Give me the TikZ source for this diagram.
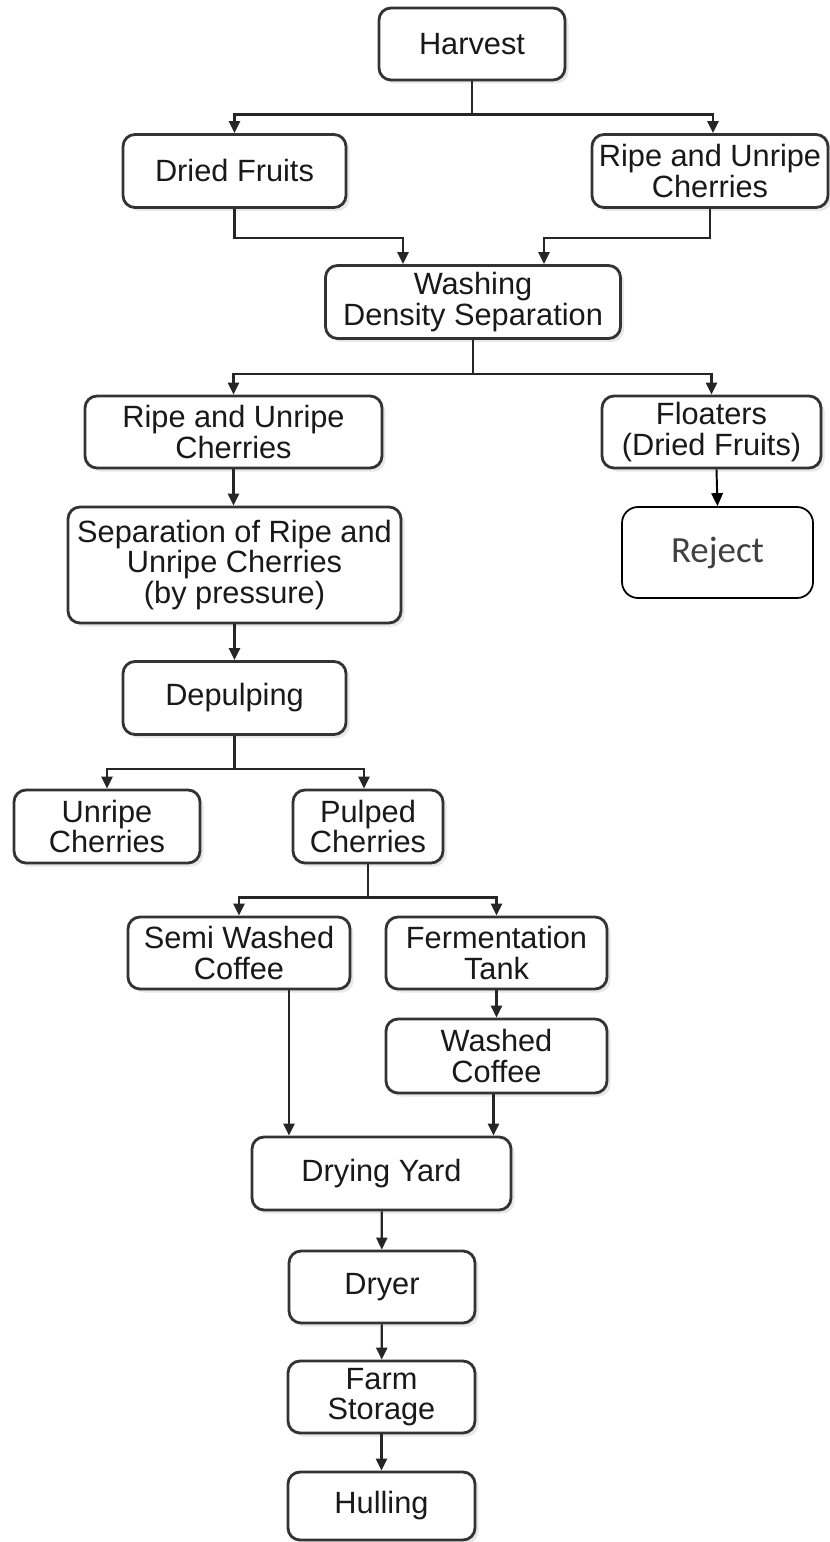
\documentclass[tikz,border=0pt]{standalone}
\usepackage{fontspec}
\setmainfont{Liberation Sans}
\newfontfamily\rejfont{Carlito}
\usetikzlibrary{arrows.meta,positioning,shadows}

\begin{document}
\begin{tikzpicture}[x=0.2mm, y=-0.2mm,
  every node/.style={font=\fontsize{17.5}{17.5}\selectfont, text=black!90, align=center},
  box/.style={draw=black!80, line width=1.6pt, rounded corners=2.4mm, fill=white, inner sep=0pt,
    drop shadow={opacity=0.18, shadow xshift=0.7mm, shadow yshift=-0.7mm}},
  sz/.style 2 args={minimum width=#1*0.2mm, minimum height=#2*0.2mm},
  arr/.style={-{Triangle[length=2.4mm,width=2.2mm]}, line width=1.3pt, draw=black!85}]
  \useasboundingbox (0,0) rectangle (830,1542);

  % top
  \node[box,sz={186}{72}] (harv) at (472,44) {Harvest};
  \node[box,sz={223}{73}] (dried) at (234.5,171) {Dried Fruits};
  \node[box,sz={236}{73}] (ripeA) at (710,171) {Ripe and Unripe\\Cherries};
  \node[box,sz={295}{73}] (wash) at (473,302) {Washing\\Density Separation};

  % after washing
  \node[box,sz={297}{72}] (ripeB) at (233.5,432) {Ripe and Unripe\\Cherries};
  \node[box,sz={219}{72}] (float) at (711.5,432) {Floaters\\(Dried Fruits)};
  \node[draw=black, line width=1pt, rounded corners=3.2mm, sz={191}{91},
    font=\rejfont\fontsize{21}{21}\selectfont, text=black!75] (rej) at (717.5,552.5) {Reject};
  \node[box,sz={333}{116}] (sep) at (234.5,565) {Separation of Ripe and\\Unripe Cherries\\(by pressure)};
  \node[box,sz={223}{73}] (depulp) at (234.5,698) {Depulping};

  % after depulping
  \node[box,sz={186}{73}] (unripe) at (107,826.5) {Unripe\\Cherries};
  \node[box,sz={150}{73}] (pulped) at (368,826.5) {Pulped\\Cherries};
  \node[box,sz={222}{72}] (semi) at (239,953) {Semi Washed\\Coffee};
  \node[box,sz={221}{72}] (ferm) at (496.5,953) {Fermentation\\Tank};
  \node[box,sz={221}{74}] (washed) at (496.5,1056) {Washed\\Coffee};

  % drying line
  \node[box,sz={259}{73}] (dry) at (381.5,1173.5) {Drying Yard};
  \node[box,sz={186}{72}] (dryer) at (382,1287) {Dryer};
  \node[box,sz={187}{72}] (farm) at (381.5,1397) {Farm\\Storage};
  \node[box,sz={187}{68}] (hull) at (381.5,1506) {Hulling};

  % connectors
  \draw[arr] (harv.south) -- ++(0,33) -| (dried.north);
  \draw[arr] (harv.south) -- ++(0,33) -| ([xshift=0.6mm]ripeA.north);
  \draw[arr] (dried.south) -- ++(0,29) -| ([xshift=-14mm]wash.north);
  \draw[arr] (ripeA.south) -- ++(0,29) -| ([xshift=14.2mm]wash.north);
  \draw[arr] (wash.south) -- ++(0,34) -| (ripeB.north);
  \draw[arr] (wash.south) -- ++(0,34) -| (float.north);
  \draw[-{Triangle[length=2.6mm,width=2.3mm]}, line width=1.1pt] ([xshift=1mm]float.south) -- (rej.north);
  \draw[arr] (ripeB.south) -- (ripeB.south |- sep.north);
  \draw[arr] (sep) -- (depulp);
  \draw[arr] (depulp.south) -- ++(0,33) -| (unripe.north);
  \draw[arr] (depulp.south) -- ++(0,33) -| ([xshift=-0.8mm]pulped.north);
  \draw[arr] (pulped.south) -- ++(0,33) -| (semi.north);
  \draw[arr] (pulped.south) -- ++(0,33) -| (ferm.north);
  \draw[arr] (ferm) -- (washed);
  \draw[arr] ([xshift=10mm]semi.south) -- ([xshift=10mm]semi.south |- dry.north);
  \draw[arr] ([xshift=-0.6mm]washed.south) -- ([xshift=-0.6mm]washed.south |- dry.north);
  \draw[arr] (dry) -- (dryer);
  \draw[arr] (dryer) -- (farm);
  \draw[arr] (farm) -- (hull);
\end{tikzpicture}
\end{document}
